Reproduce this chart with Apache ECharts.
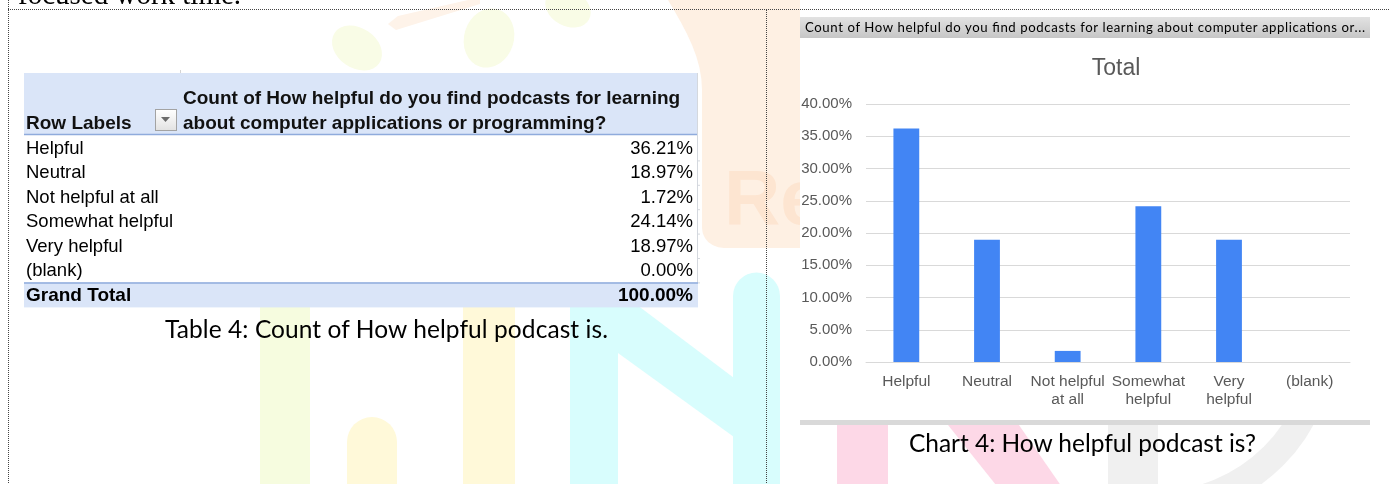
<!DOCTYPE html>
<html>
<head>
<meta charset="utf-8">
<script src="https://cdn.jsdelivr.net/npm/echarts@6/dist/echarts.min.js"></script>
<style>
html,body{margin:0;padding:0;width:1389px;height:484px;overflow:hidden;background:#fff;}
#chart{position:absolute;left:0;top:0;width:1389px;height:484px;}
#doc{position:absolute;left:0;top:0;width:1389px;height:484px;pointer-events:none;}
</style>
</head>
<body>
<div id="chart"></div>
<svg id="doc" xmlns="http://www.w3.org/2000/svg" width="1389" height="484"></svg>
<script>
// ---------------- data ----------------
const categories = ['Helpful', 'Neutral', 'Not helpful at all', 'Somewhat helpful', 'Very helpful', '(blank)'];
const xTickLabels = ['Helpful', 'Neutral', 'Not helpful\nat all', 'Somewhat\nhelpful', 'Very\nhelpful', '(blank)'];
const values = [36.21, 18.97, 1.72, 24.14, 18.97, 0.00];
const grandTotalLabel = 'Grand Total';
const grandTotalValue = 100.00;
const yTickMin = 0, yTickMax = 40, yTickStep = 5;
const chartTitle = 'Total';
const chartHeader = 'Count of How helpful do you find podcasts for learning about computer applications or...';
const tableHeaderLines = ['Count of How helpful do you find podcasts for learning', 'about computer applications or programming?'];
const rowLabelsHeader = 'Row Labels';
const tableCaption = 'Table 4: Count of How helpful podcast is.';
const chartCaption = 'Chart 4: How helpful podcast is?';
const topText = 'focused work time.';

// ---------------- document layer (table, captions, borders) ----------------
const NS = 'http://www.w3.org/2000/svg';
const svg = document.getElementById('doc');
const pct = v => v.toFixed(2) + '%';
function el(tag, attrs, text) {
  const e = document.createElementNS(NS, tag);
  for (const k in attrs) e.setAttribute(k, attrs[k]);
  if (text !== undefined) e.textContent = text;
  svg.appendChild(e);
  return e;
}
const defs = el('defs', {});
defs.innerHTML = '<linearGradient id="bar" x1="0" y1="0" x2="0" y2="1"><stop offset="0" stop-color="#e2e2e2"/><stop offset="1" stop-color="#c6c6c6"/></linearGradient>' +
  '<linearGradient id="btn" x1="0" y1="0" x2="0" y2="1"><stop offset="0" stop-color="#ffffff"/><stop offset="1" stop-color="#e2e2e2"/></linearGradient>';

el('text', {x: 18, y: 4, 'font-family': 'Liberation Serif, Times New Roman, serif', 'font-size': 29, fill: '#000'}, topText);
el('line', {x1: 8, y1: 9.5, x2: 1389, y2: 9.5, stroke: '#444', 'stroke-width': 1, 'stroke-dasharray': '1,1'});
el('line', {x1: 8.5, y1: 0, x2: 8.5, y2: 484, stroke: '#444', 'stroke-width': 1, 'stroke-dasharray': '1,1'});
el('line', {x1: 766.5, y1: 10, x2: 766.5, y2: 484, stroke: '#444', 'stroke-width': 1, 'stroke-dasharray': '1,1'});

const TL = 24, TR = 698, rowTop = 136, rowH = 24.4;
el('rect', {x: TL, y: 73, width: TR - TL, height: 234, fill: '#ffffff'});
el('rect', {x: TL, y: 73, width: TR - TL, height: 62, fill: '#dae5f8'});
el('line', {x1: TL, y1: 134.5, x2: TR, y2: 134.5, stroke: '#8fabdc', 'stroke-width': 1.5});
el('line', {x1: 697.5, y1: 73, x2: 697.5, y2: 307, stroke: '#d4d8de', 'stroke-width': 1});
el('line', {x1: 180.5, y1: 70, x2: 180.5, y2: 73, stroke: '#d4d4d4', 'stroke-width': 1});
const HB = 'Liberation Sans, Arial, sans-serif';
el('text', {x: 26, y: 129, 'font-family': HB, 'font-weight': 'bold', 'font-size': 19, fill: '#111'}, rowLabelsHeader);
el('rect', {x: 155.5, y: 109.5, width: 21, height: 21, fill: 'url(#btn)', stroke: '#a3a3a3', 'stroke-width': 1});
el('polygon', {points: '161,117 170,117 165.5,122', fill: '#6a6a6a'});
el('text', {x: 183, y: 104, 'font-family': HB, 'font-weight': 'bold', 'font-size': 19, fill: '#111'}, tableHeaderLines[0]);
el('text', {x: 183, y: 129, 'font-family': HB, 'font-weight': 'bold', 'font-size': 19, fill: '#111'}, tableHeaderLines[1]);
categories.forEach((c, i) => {
  const base = rowTop + rowH * (i + 1) - 6.5;
  el('text', {x: 26, y: base, 'font-family': HB, 'font-size': 18.5, fill: '#000'}, c);
  el('text', {x: 693, y: base, 'text-anchor': 'end', 'font-family': HB, 'font-size': 18.5, fill: '#000'}, pct(values[i]));
  el('line', {x1: 697, y1: rowTop + rowH * (i + 1) + 0.5, x2: 700, y2: rowTop + rowH * (i + 1) + 0.5, stroke: '#d4d8de'});
});
const gtTop = rowTop + rowH * categories.length;
el('rect', {x: TL, y: gtTop, width: TR - TL, height: 25, fill: '#dae5f8'});
el('line', {x1: TL, y1: gtTop + 0.5, x2: TR, y2: gtTop + 0.5, stroke: '#8fabdc', 'stroke-width': 1.5});
el('text', {x: 26, y: gtTop + 19, 'font-family': HB, 'font-weight': 'bold', 'font-size': 19, fill: '#000'}, grandTotalLabel);
el('text', {x: 693, y: gtTop + 19, 'text-anchor': 'end', 'font-family': HB, 'font-weight': 'bold', 'font-size': 19, fill: '#000'}, pct(grandTotalValue));

const CAL = 'Lato, Noto Sans, sans-serif';
el('text', {x: 165, y: 338, 'font-family': CAL, 'font-size': 24.5, fill: '#000', textLength: 443, lengthAdjust: 'spacing'}, tableCaption);
el('text', {x: 909, y: 452, 'font-family': CAL, 'font-size': 24.5, fill: '#000', textLength: 347, lengthAdjust: 'spacing'}, chartCaption);

el('rect', {x: 800, y: 17, width: 570, height: 21, fill: 'url(#bar)'});
el('text', {x: 805, y: 32, 'font-family': CAL, 'font-size': 13.2, fill: '#000', textLength: 560, lengthAdjust: 'spacing'}, chartHeader);

// ---------------- chart ----------------
const chart = echarts.init(document.getElementById('chart'), null, {renderer: 'canvas'});
const AR = 'Liberation Sans, Arial, sans-serif';
const wm = (e) => Object.assign({silent: true, z: -30}, e);
function blob() {
  const pts = [[668, 0]];
  for (let t = 1; t <= 8; t++) { const s = t / 8; pts.push([668 + 34 * Math.sin(s * Math.PI / 2), 90 * s]); }
  pts.push([702, 228]);
  for (let t = 1; t <= 6; t++) { const a = Math.PI - t / 6 * Math.PI / 2; pts.push([724 + 22 * Math.cos(a), 228 + 20 * Math.sin(a)]); }
  pts.push([800, 248], [800, 0]);
  return pts;
}
const LEAF = '#f9fce6';
const option = {
  animation: false,
  backgroundColor: '#ffffff',
  grid: {left: 866, right: 39, top: 104, bottom: 122, containLabel: false},
  xAxis: {
    type: 'category', data: xTickLabels,
    axisTick: {show: false},
    axisLine: {show: true, lineStyle: {color: '#d9d9d9', width: 1}},
    axisLabel: {interval: 0, color: '#595959', fontSize: 15.5, fontFamily: AR, margin: 11, lineHeight: 18}
  },
  yAxis: {
    type: 'value', min: yTickMin, max: yTickMax, interval: yTickStep,
    axisLine: {show: false}, axisTick: {show: false},
    axisLabel: {formatter: v => pct(v), color: '#595959', fontSize: 15, fontFamily: AR, margin: 14},
    splitLine: {lineStyle: {color: '#d9d9d9', width: 1}}
  },
  series: [{
    type: 'bar', name: chartTitle, data: values, barWidth: '32%',
    itemStyle: {color: '#4285f4'}
  }],
  graphic: {elements: [
    wm({type: 'polygon', shape: {points: blob()}, style: {fill: '#fef0e3'}}),
    wm({type: 'text', z: -29, x: 724, y: 241, style: {text: 'Re', font: 'bold 78px Liberation Sans, Arial', fill: '#fde5d1', textVerticalAlign: 'bottom'}}),
    wm({type: 'polygon', shape: {points: [[388, 24], [398, 16], [468, 0], [480, 0], [480, 4], [396, 30]]}, style: {fill: '#fef3e9'}}),
    wm({type: 'circle', x: 357, y: 48, rotation: -0.6, scaleX: 1.35, scaleY: 1, shape: {cx: 0, cy: 0, r: 20}, style: {fill: LEAF}}),
    wm({type: 'circle', x: 489, y: 38, rotation: -0.3, scaleX: 0.83, scaleY: 1, shape: {cx: 0, cy: 0, r: 30}, style: {fill: LEAF}}),
    wm({type: 'circle', x: 568, y: 8, rotation: -0.5, scaleX: 1.33, scaleY: 1, shape: {cx: 0, cy: 0, r: 18}, style: {fill: LEAF}}),
    wm({type: 'rect', shape: {x: 260, y: 250, width: 50, height: 240}, style: {fill: '#f6fcdf'}}),
    wm({type: 'rect', shape: {x: 463, y: 250, width: 52, height: 240}, style: {fill: '#fff9d9'}}),
    wm({type: 'rect', shape: {x: 347, y: 442, width: 50, height: 50}, style: {fill: '#fff9d9'}}),
    wm({type: 'circle', shape: {cx: 372, cy: 442, r: 25}, style: {fill: '#fff9d9'}}),
    wm({type: 'rect', shape: {x: 570, y: 250, width: 48, height: 240}, style: {fill: '#d8fdfd'}}),
    wm({type: 'rect', shape: {x: 733, y: 296, width: 47, height: 194}, style: {fill: '#d8fdfd'}}),
    wm({type: 'circle', shape: {cx: 756.5, cy: 296, r: 23.5}, style: {fill: '#d8fdfd'}}),
    wm({type: 'polygon', shape: {points: [[570, 262], [580, 262], [734, 378], [734, 437], [618, 353], [570, 318]]}, style: {fill: '#d8fdfd'}}),
    wm({type: 'rect', shape: {x: 837, y: 400, width: 51, height: 90}, style: {fill: '#fdd8e7'}}),
    wm({type: 'polygon', shape: {points: [[940, 415], [1012, 415], [1064, 490], [1000, 490]]}, style: {fill: '#fdd8e7'}}),
    wm({type: 'rect', shape: {x: 1108, y: 400, width: 50, height: 90}, style: {fill: '#f0f0f0'}}),
    wm({type: 'sector', shape: {cx: 1157, cy: 340, r0: 151, r: 178, startAngle: -Math.PI / 2, endAngle: Math.PI / 2, clockwise: true}, style: {fill: '#f0f0f0'}}),
    {type: 'rect', z: -5, silent: true, shape: {x: 800, y: 38, width: 570, height: 382}, style: {fill: '#ffffff'}},
    {type: 'rect', z: -4, silent: true, shape: {x: 800, y: 420, width: 570, height: 5}, style: {fill: '#d9d9d9'}},
    {type: 'text', z: 10, x: 1116, y: 69, style: {text: chartTitle, font: '23px Liberation Sans, Arial', fill: '#595959', textAlign: 'center', textVerticalAlign: 'middle'}}
  ]}
};
chart.setOption(option);
</script>
</body>
</html>
